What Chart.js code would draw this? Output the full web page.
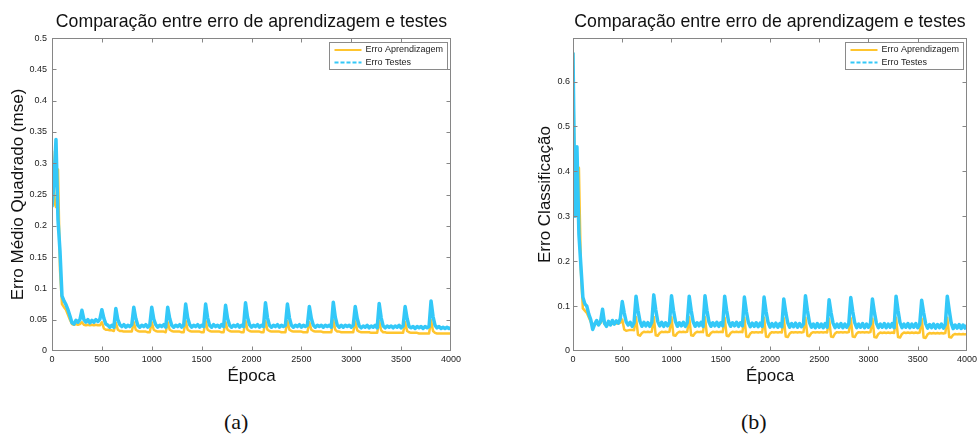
<!DOCTYPE html>
<html>
<head>
<meta charset="utf-8">
<script src="https://cdn.jsdelivr.net/npm/chart.js@4.4.1/dist/chart.umd.min.js"></script>
<style>
  body { margin: 0; background: #fff; width: 980px; height: 438px; position: relative; overflow: hidden; }
  .painel { position: absolute; top: 0; width: 490px; height: 400px; }
  .subfig { position: absolute; top: 409px; line-height: 26px; font-family: "Liberation Serif", "DejaVu Serif", serif; font-size: 22px; color: #111; }
</style>
</head>
<body>
<div class="painel" style="left:0"><canvas id="graficoMse" width="490" height="400"></canvas></div>
<div class="painel" style="left:490px"><canvas id="graficoClass" width="490" height="400"></canvas></div>
<div class="subfig" style="left:224px">(a)</div>
<div class="subfig" style="left:741px">(b)</div>
<script>
// eixo x: épocas amostradas de 20 em 20
const epocas = Array.from({ length: 201 }, (_, i) => i * 20);
const ticksEpoca = [0, 500, 1000, 1500, 2000, 2500, 3000, 3500, 4000];
const ticksMse = [0, 0.05, 0.1, 0.15, 0.2, 0.25, 0.3, 0.35, 0.4, 0.45, 0.5];
const ticksClass = [0, 0.1, 0.2, 0.3, 0.4, 0.5, 0.6];

const nomes = ['Erro Aprendizagem', 'Erro Testes'];

// (a) erro médio quadrado
const mseAprendizagem = [
  0.32, 0.24, 0.23, 0.29, 0.13, 0.075, 0.07, 0.066, 0.058, 0.05,
  0.043, 0.042, 0.043, 0.042, 0.043, 0.046, 0.042, 0.041, 0.042, 0.041,
  0.042, 0.041, 0.042, 0.041, 0.041, 0.046, 0.036, 0.034, 0.034, 0.033,
  0.033, 0.032, 0.045, 0.034, 0.032, 0.032, 0.031, 0.031, 0.031, 0.031,
  0.031, 0.046, 0.034, 0.032, 0.031, 0.031, 0.031, 0.031, 0.03, 0.03,
  0.046, 0.034, 0.032, 0.031, 0.031, 0.031, 0.031, 0.03, 0.046, 0.034,
  0.032, 0.031, 0.031, 0.031, 0.031, 0.03, 0.03, 0.048, 0.034, 0.032,
  0.031, 0.031, 0.031, 0.031, 0.031, 0.03, 0.03, 0.048, 0.034, 0.032,
  0.031, 0.031, 0.031, 0.031, 0.031, 0.03, 0.03, 0.046, 0.034, 0.032,
  0.031, 0.031, 0.031, 0.031, 0.031, 0.03, 0.03, 0.048, 0.034, 0.032,
  0.031, 0.031, 0.031, 0.031, 0.031, 0.03, 0.03, 0.048, 0.034, 0.032,
  0.031, 0.031, 0.031, 0.031, 0.031, 0.03, 0.03, 0.03, 0.048, 0.034,
  0.032, 0.031, 0.031, 0.031, 0.031, 0.031, 0.03, 0.03, 0.03, 0.046,
  0.034, 0.032, 0.031, 0.031, 0.031, 0.031, 0.03, 0.03, 0.03, 0.03,
  0.03, 0.049, 0.034, 0.031, 0.031, 0.03, 0.03, 0.03, 0.03, 0.03,
  0.03, 0.03, 0.047, 0.033, 0.031, 0.03, 0.03, 0.03, 0.03, 0.03,
  0.029, 0.029, 0.029, 0.029, 0.048, 0.033, 0.03, 0.03, 0.029, 0.029,
  0.029, 0.029, 0.029, 0.029, 0.029, 0.029, 0.029, 0.046, 0.032, 0.03,
  0.029, 0.029, 0.029, 0.029, 0.028, 0.028, 0.028, 0.028, 0.028, 0.028,
  0.049, 0.032, 0.029, 0.028, 0.028, 0.028, 0.028, 0.028, 0.028, 0.028,
  0.028
];
const mseTestes = [
  0.23, 0.27, 0.338, 0.21, 0.16, 0.088, 0.08, 0.074, 0.066, 0.056,
  0.045, 0.043, 0.049, 0.046, 0.05, 0.065, 0.05, 0.046, 0.05, 0.045,
  0.049, 0.046, 0.05, 0.047, 0.051, 0.066, 0.052, 0.043, 0.041, 0.038,
  0.041, 0.038, 0.068, 0.05, 0.042, 0.039, 0.042, 0.038, 0.041, 0.039,
  0.042, 0.07, 0.052, 0.041, 0.038, 0.041, 0.039, 0.042, 0.038, 0.041,
  0.07, 0.051, 0.042, 0.038, 0.041, 0.039, 0.042, 0.038, 0.07, 0.052,
  0.041, 0.038, 0.041, 0.039, 0.042, 0.038, 0.041, 0.075, 0.053, 0.042,
  0.038, 0.041, 0.039, 0.042, 0.038, 0.041, 0.039, 0.075, 0.053, 0.041,
  0.038, 0.042, 0.039, 0.041, 0.038, 0.042, 0.039, 0.073, 0.052, 0.041,
  0.038, 0.041, 0.039, 0.042, 0.038, 0.041, 0.039, 0.077, 0.054, 0.042,
  0.038, 0.041, 0.039, 0.042, 0.038, 0.041, 0.039, 0.077, 0.053, 0.041,
  0.038, 0.041, 0.039, 0.042, 0.038, 0.041, 0.039, 0.041, 0.075, 0.053,
  0.041, 0.038, 0.041, 0.039, 0.042, 0.038, 0.041, 0.039, 0.041, 0.071,
  0.052, 0.041, 0.038, 0.041, 0.039, 0.041, 0.038, 0.041, 0.039, 0.041,
  0.038, 0.078, 0.054, 0.041, 0.038, 0.041, 0.038, 0.041, 0.039, 0.041,
  0.038, 0.041, 0.071, 0.052, 0.04, 0.037, 0.04, 0.038, 0.041, 0.037,
  0.04, 0.038, 0.041, 0.037, 0.076, 0.053, 0.04, 0.037, 0.04, 0.038,
  0.04, 0.037, 0.04, 0.038, 0.041, 0.037, 0.04, 0.071, 0.052, 0.039,
  0.037, 0.039, 0.036, 0.039, 0.037, 0.039, 0.036, 0.039, 0.037, 0.039,
  0.08, 0.055, 0.041, 0.037, 0.039, 0.036, 0.038, 0.036, 0.038, 0.036,
  0.037
];

// (b) erro de classificação
const classAprendizagem = [
  0.665, 0.34, 0.3, 0.408, 0.18, 0.095, 0.09, 0.085, 0.075, 0.065,
  0.06, 0.058, 0.062, 0.06, 0.062, 0.075, 0.06, 0.058, 0.06, 0.059,
  0.061, 0.06, 0.062, 0.061, 0.063, 0.07, 0.048, 0.045, 0.046, 0.047,
  0.047, 0.046, 0.075, 0.036, 0.034, 0.04, 0.043, 0.042, 0.043, 0.042,
  0.043, 0.076, 0.035, 0.034, 0.04, 0.043, 0.042, 0.043, 0.042, 0.043,
  0.075, 0.035, 0.034, 0.04, 0.043, 0.042, 0.043, 0.042, 0.043, 0.075,
  0.035, 0.034, 0.04, 0.043, 0.042, 0.043, 0.042, 0.075, 0.035, 0.034,
  0.04, 0.043, 0.042, 0.043, 0.042, 0.043, 0.042, 0.074, 0.034, 0.033,
  0.04, 0.043, 0.042, 0.043, 0.042, 0.043, 0.042, 0.074, 0.032, 0.031,
  0.039, 0.042, 0.041, 0.042, 0.041, 0.042, 0.041, 0.074, 0.032, 0.031,
  0.039, 0.042, 0.041, 0.042, 0.041, 0.042, 0.041, 0.073, 0.032, 0.031,
  0.039, 0.042, 0.041, 0.042, 0.041, 0.042, 0.041, 0.042, 0.074, 0.034,
  0.033, 0.04, 0.042, 0.041, 0.042, 0.041, 0.042, 0.041, 0.042, 0.041,
  0.072, 0.032, 0.031, 0.039, 0.042, 0.041, 0.042, 0.041, 0.042, 0.041,
  0.042, 0.073, 0.032, 0.031, 0.039, 0.042, 0.041, 0.042, 0.041, 0.042,
  0.041, 0.042, 0.072, 0.031, 0.03, 0.038, 0.041, 0.04, 0.041, 0.04,
  0.041, 0.04, 0.041, 0.04, 0.074, 0.031, 0.03, 0.038, 0.041, 0.04,
  0.041, 0.04, 0.041, 0.04, 0.041, 0.04, 0.041, 0.072, 0.03, 0.029,
  0.037, 0.04, 0.039, 0.04, 0.039, 0.04, 0.039, 0.04, 0.039, 0.04,
  0.074, 0.031, 0.03, 0.036, 0.038, 0.037, 0.038, 0.037, 0.038, 0.037,
  0.038
];
const classTestes = [
  0.665, 0.3, 0.455, 0.26, 0.19, 0.12, 0.105, 0.1, 0.082, 0.07,
  0.048, 0.06, 0.068, 0.058, 0.066, 0.093, 0.062, 0.055, 0.066, 0.058,
  0.068, 0.06, 0.067, 0.062, 0.072, 0.11, 0.085, 0.065, 0.058, 0.064,
  0.055, 0.063, 0.122, 0.09, 0.066, 0.055, 0.064, 0.056, 0.063, 0.055,
  0.064, 0.125, 0.092, 0.066, 0.056, 0.064, 0.055, 0.063, 0.056, 0.064,
  0.123, 0.09, 0.066, 0.055, 0.063, 0.056, 0.064, 0.055, 0.063, 0.122,
  0.09, 0.065, 0.055, 0.063, 0.056, 0.064, 0.055, 0.123, 0.09, 0.065,
  0.055, 0.063, 0.056, 0.064, 0.055, 0.063, 0.056, 0.122, 0.09, 0.065,
  0.055, 0.063, 0.056, 0.064, 0.055, 0.063, 0.056, 0.12, 0.088, 0.064,
  0.054, 0.062, 0.055, 0.063, 0.054, 0.062, 0.055, 0.12, 0.088, 0.064,
  0.053, 0.061, 0.054, 0.062, 0.053, 0.061, 0.054, 0.116, 0.086, 0.063,
  0.053, 0.061, 0.054, 0.062, 0.053, 0.061, 0.054, 0.06, 0.123, 0.09,
  0.064, 0.053, 0.06, 0.052, 0.061, 0.053, 0.06, 0.052, 0.061, 0.053,
  0.114, 0.085, 0.062, 0.052, 0.06, 0.053, 0.061, 0.052, 0.06, 0.053,
  0.061, 0.119, 0.088, 0.063, 0.052, 0.06, 0.053, 0.061, 0.052, 0.06,
  0.053, 0.061, 0.116, 0.086, 0.062, 0.052, 0.06, 0.053, 0.061, 0.052,
  0.06, 0.053, 0.061, 0.052, 0.122, 0.09, 0.063, 0.052, 0.06, 0.053,
  0.061, 0.052, 0.06, 0.053, 0.061, 0.052, 0.06, 0.113, 0.085, 0.061,
  0.051, 0.059, 0.052, 0.06, 0.051, 0.059, 0.052, 0.06, 0.051, 0.059,
  0.122, 0.09, 0.062, 0.05, 0.058, 0.051, 0.059, 0.05, 0.058, 0.051,
  0.057
];

const LARANJA = '#FFC52E';
const CIANO = '#33C8F8';
const FONTE = '"Liberation Sans", Arial, sans-serif';

// caixa fechada com marcas para dentro (estilo MATLAB) + legenda no canto
const eixosMatlab = {
  id: 'eixosMatlab',
  afterDatasetsDraw(chart) {
    const { ctx, chartArea: a, scales } = chart;
    const l = Math.round(a.left) + 0.5, r = Math.round(a.right) - 0.5;
    const t = Math.round(a.top) + 0.5, b = Math.round(a.bottom) - 0.5;
    ctx.save();
    ctx.strokeStyle = '#868686';
    ctx.lineWidth = 1;
    ctx.strokeRect(l, t, r - l, b - t);
    ctx.beginPath();
    scales.x.ticks.forEach(tk => {
      const px = Math.round(scales.x.getPixelForValue(tk.value)) + 0.5;
      if (px <= l + 1 || px >= r - 1) return;
      ctx.moveTo(px, b); ctx.lineTo(px, b - 4);
      ctx.moveTo(px, t); ctx.lineTo(px, t + 4);
    });
    scales.y.ticks.forEach(tk => {
      const py = Math.round(scales.y.getPixelForValue(tk.value)) + 0.5;
      if (py <= t + 1 || py >= b - 1) return;
      ctx.moveTo(l, py); ctx.lineTo(l + 4, py);
      ctx.moveTo(r, py); ctx.lineTo(r - 4, py);
    });
    ctx.stroke();

    // legenda
    const w = 118, h = 27;
    const x0 = Math.round(a.right) - 4 - w + 0.5, y0 = Math.round(a.top) + 4 + 0.5;
    ctx.fillStyle = '#fff';
    ctx.fillRect(x0, y0, w, h);
    ctx.strokeStyle = '#8a8a8a';
    ctx.strokeRect(x0, y0, w, h);
    ctx.font = '9px ' + FONTE;
    ctx.textBaseline = 'middle';
    chart.data.datasets.forEach((ds, i) => {
      const yy = y0 + 7.5 + i * 12.4;
      ctx.beginPath();
      ctx.strokeStyle = ds.borderColor;
      ctx.lineWidth = 2;
      ctx.setLineDash(i === 1 ? [4, 2] : []);
      ctx.moveTo(x0 + 5, yy);
      ctx.lineTo(x0 + 32, yy);
      ctx.stroke();
      ctx.setLineDash([]);
      ctx.fillStyle = '#222';
      ctx.fillText(ds.label, x0 + 36, yy);
    });
    ctx.restore();
  }
};

function criaGrafico(id, aprendizagem, testes, yMax, yTicks, rotuloY, o) {
  const pontos = serie => serie.map((v, i) => ({ x: epocas[i], y: v }));
  return new Chart(document.getElementById(id), {
    type: 'line',
    data: {
      datasets: [
        { label: nomes[0], data: pontos(aprendizagem), borderColor: LARANJA, borderWidth: 2.5, order: 1 },
        { label: nomes[1], data: pontos(testes), borderColor: CIANO, borderWidth: 3.5, order: 0 }
      ]
    },
    options: {
      responsive: false,
      animation: false,
      events: [],
      elements: {
        point: { radius: 0 },
        line: { tension: 0, borderJoinStyle: 'round' }
      },
      layout: { autoPadding: false, padding: { left: 0, right: o.direita, top: 0, bottom: 0 } },
      scales: {
        x: {
          type: 'linear',
          min: 0, max: 4000,
          afterBuildTicks: s => { s.ticks = ticksEpoca.map(v => ({ value: v })); },
          afterFit: s => { s.height = 49; },
          grid: { display: false, drawTicks: false },
          border: { display: false },
          ticks: { padding: 3, maxRotation: 0, autoSkip: false, color: '#222', font: { family: FONTE, size: 9 },
                   callback: v => String(v) },
          title: { display: true, text: 'Época', color: '#111', font: { family: FONTE, size: 17 }, padding: { top: 0, bottom: 13 } }
        },
        y: {
          min: 0, max: yMax,
          afterBuildTicks: s => { s.ticks = yTicks.map(v => ({ value: v })); },
          afterFit: s => { s.width = o.largY; },
          grid: { display: false, drawTicks: false },
          border: { display: false },
          ticks: { padding: o.padY, autoSkip: false, color: '#222', font: { family: FONTE, size: 9 },
                   callback: v => String(+v.toFixed(2)) },
          title: { display: true, text: rotuloY, color: '#111', font: { family: FONTE, size: 17 }, padding: { top: o.padTitY, bottom: 0 } }
        }
      },
      plugins: {
        legend: { display: false },
        tooltip: { enabled: false },
        title: {
          display: true,
          fullSize: false,
          text: 'Comparação entre erro de aprendizagem e testes',
          color: '#111',
          font: { family: FONTE, size: 17.7, weight: 'normal' },
          padding: { top: 11.6, bottom: 5.2 }
        }
      }
    },
    plugins: [eixosMatlab]
  });
}

criaGrafico('graficoMse', mseAprendizagem, mseTestes, 0.5, ticksMse,
  'Erro Médio Quadrado (mse)', { direita: 39, largY: 52, padY: 5, padTitY: 8 });
criaGrafico('graficoClass', classAprendizagem, classTestes, 0.697, ticksClass,
  'Erro Classificação', { direita: 9, largY: 83, padY: 3, padTitY: 45 });
</script>
</body>
</html>
